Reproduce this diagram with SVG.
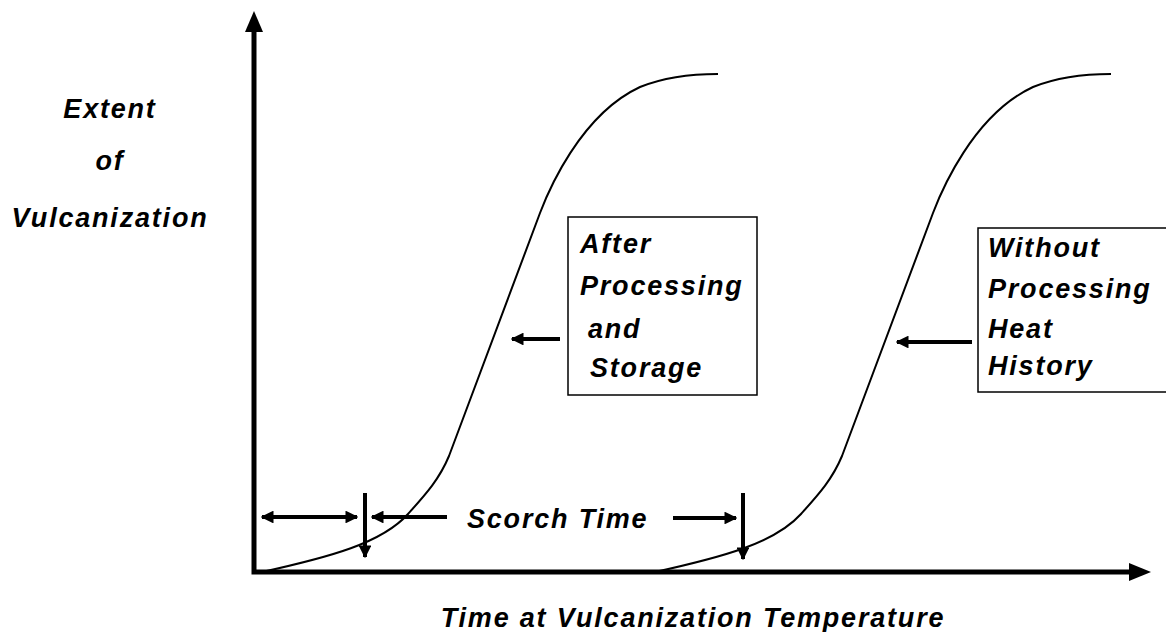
<svg xmlns="http://www.w3.org/2000/svg" width="1166" height="632" viewBox="0 0 1166 632">
<style>
text{font-family:"Liberation Sans",Arial,sans-serif;font-weight:bold;font-style:italic;font-size:27px;letter-spacing:1.8px;fill:#000}
.axis{stroke:#000;stroke-width:5;fill:none}
.curve{stroke:#000;stroke-width:2;fill:none}
.arr{stroke:#000;stroke-width:4;fill:none}
.box{stroke:#000;stroke-width:1.5;fill:#fff}
</style>
<defs>
<marker id="ah" viewBox="0 0 10 10" refX="9" refY="5" markerWidth="3.2" markerHeight="3.2" orient="auto-start-reverse" markerUnits="strokeWidth">
<path d="M0,0 L10,5 L0,10 z" fill="#000"/>
</marker>
</defs>
<g id="axes">
<path class="axis" d="M254,30 V572 H1132"/>
<path d="M254,11 L245,32 L263,32 z" fill="#000"/>
<path d="M1151,572 L1129,563 L1129,581 z" fill="#000"/>
</g>
<g id="curve-after">
<path class="curve" d="M262,572 C330,557 382,543 408,514 C425,495 439,480 449,456 L540,213 C548,192 580,115 640,87 C665,77 690,74 718,74"/>
</g>
<g id="curve-without">
<path class="curve" transform="translate(393,0)" d="M262,572 C330,557 382,543 408,514 C425,495 439,480 449,456 L540,213 C548,192 580,115 640,87 C665,77 690,74 718,74"/>
</g>
<g id="box-after">
<rect class="box" x="568" y="217" width="189" height="178"/>
<text x="580" y="253">After</text>
<text x="580" y="295">Processing</text>
<text x="588" y="338">and</text>
<text x="590" y="377">Storage</text>
</g>
<g id="box-without">
<rect class="box" x="978" y="228" width="200" height="164"/>
<text x="988" y="257">Without</text>
<text x="988" y="298">Processing</text>
<text x="988" y="338">Heat</text>
<text x="988" y="375">History</text>
</g>
<g id="labels">
<text x="110" y="118" text-anchor="middle">Extent</text>
<text x="110" y="170" text-anchor="middle">of</text>
<text x="110" y="227" text-anchor="middle">Vulcanization</text>
<text x="467" y="528">Scorch Time</text>
<text x="693" y="627" text-anchor="middle">Time at Vulcanization Temperature</text>
</g>
<g id="connectors">
<path class="arr" d="M560,339 H512" marker-end="url(#ah)"/>
<path class="arr" d="M972,342 H897" marker-end="url(#ah)"/>
<path class="arr" d="M262,517 H357" marker-start="url(#ah)" marker-end="url(#ah)"/>
<path class="arr" d="M365,493 V557" marker-end="url(#ah)"/>
<path class="arr" d="M447,517 H372" marker-end="url(#ah)"/>
<path class="arr" d="M673,518 H736" marker-end="url(#ah)"/>
<path class="arr" d="M743,493 V559" marker-end="url(#ah)"/>
</g>
</svg>
